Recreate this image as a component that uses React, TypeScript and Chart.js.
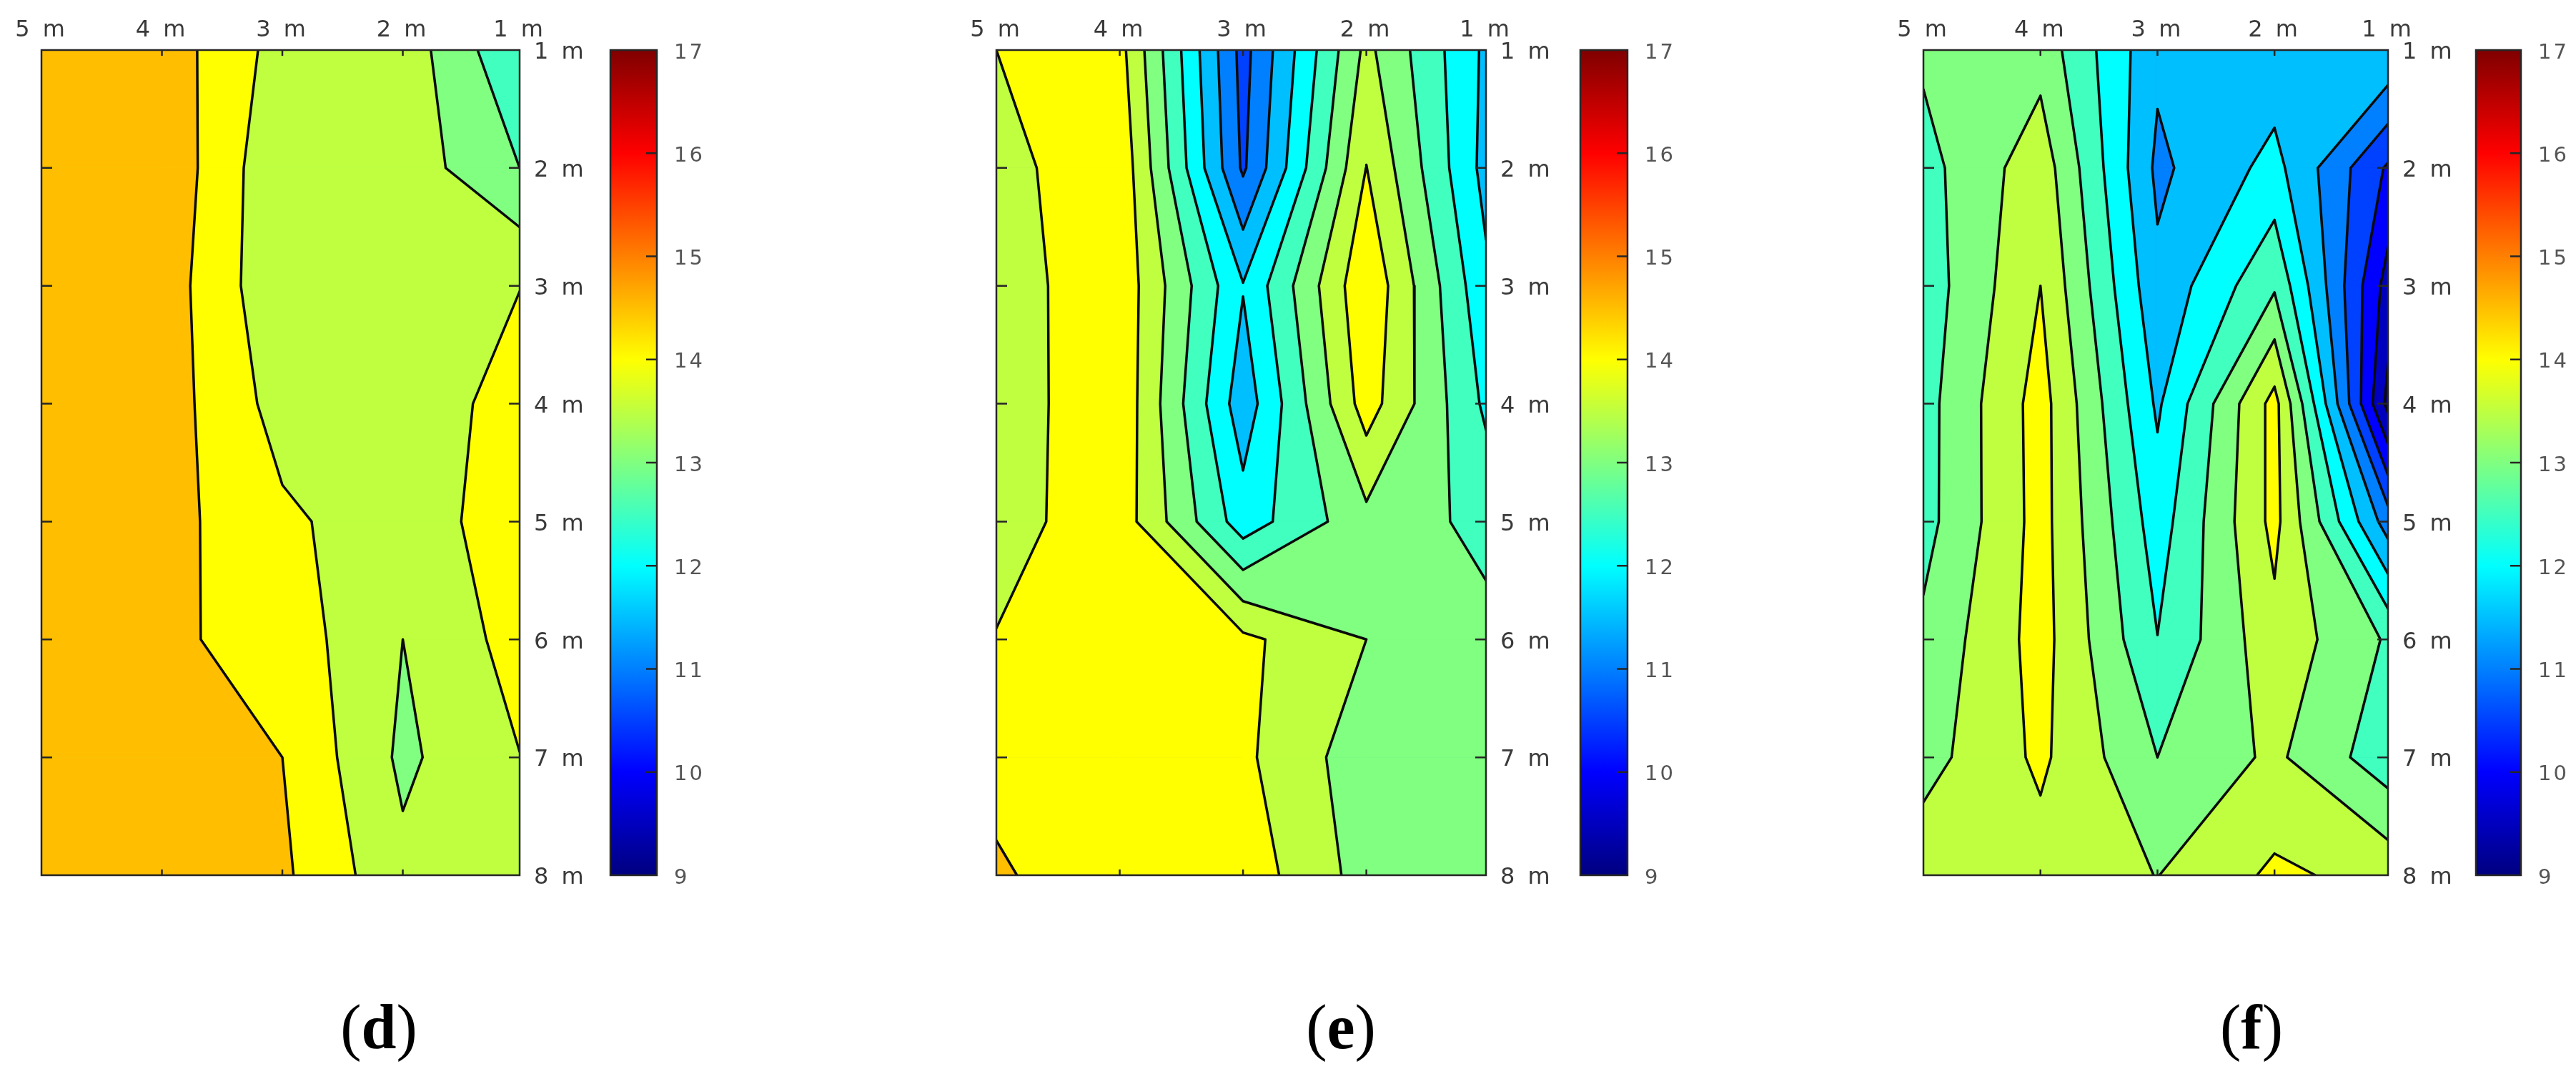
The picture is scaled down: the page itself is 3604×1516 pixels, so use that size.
import React, { useEffect, useRef } from "react";
import { Chart, registerables } from "chart.js";

Chart.register(...registerables);

const xColumns = [5, 4, 3, 2, 1.03];
const yRows = [1, 2, 3, 4, 5, 6, 7, 8];
const xTickLabels = ["5 m", "4 m", "3 m", "2 m", "1 m"];
const yTickLabels = ["1 m", "2 m", "3 m", "4 m", "5 m", "6 m", "7 m", "8 m"];
const colorbarTicks = [9, 10, 11, 12, 13, 14, 15, 16, 17];
const contourLevels = [9.5, 10, 10.5, 11, 11.5, 12, 12.5, 13, 13.5, 14, 14.5, 15, 15.5, 16, 16.5];

const panelD = [
  [14.85, 14.79, 13.8, 13.8, 12.55],
  [14.85, 14.89, 13.58, 13.79, 13.0],
  [14.85, 14.78, 13.59, 13.85, 13.995],
  [14.85, 14.76, 13.8, 13.85, 14.1],
  [14.85, 14.69, 14.09, 13.72, 14.28],
  [14.85, 14.6, 14.29, 13.5, 14.2],
  [14.85, 14.75, 14.5, 13.4, 13.99],
  [14.85, 14.85, 14.59, 13.62, 13.7],
];
const panelE = [
  [14.0, 14.17, 10.82, 13.63, 11.9],
  [13.82, 14.37, 10.92, 14.01, 11.83],
  [13.74, 14.36, 12.03, 14.42, 12.11],
  [13.72, 14.38, 11.7, 14.24, 12.4],
  [13.81, 14.28, 12.23, 13.35, 12.85],
  [14.02, 14.3, 14.11, 13.5, 13.15],
  [14.38, 14.3, 14.1, 13.21, 13.15],
  [14.55, 14.25, 14.29, 13.3, 13.2],
];
const panelF = [
  [13.09, 13.31, 11.61, 11.69, 11.95],
  [12.82, 13.8, 11.39, 12.16, 10.43],
  [12.72, 14.0, 11.62, 12.93, 9.79],
  [12.81, 14.21, 11.92, 14.18, 9.35],
  [12.82, 14.19, 12.25, 14.15, 11.25],
  [13.11, 14.2, 12.51, 13.84, 12.94],
  [13.31, 14.1, 13.0, 13.6, 12.7],
  [13.81, 13.79, 13.49, 14.09, 13.84],
];

const panels = [
  { grid: panelD, letter: "d", left: 58, right: 727, barLeft: 854, barRight: 919, captionX: 530 },
  { grid: panelE, letter: "e", left: 1394, right: 2079, barLeft: 2211, barRight: 2277, captionX: 1876 },
  { grid: panelF, letter: "f", left: 2691, right: 3341, barLeft: 3464, barRight: 3527, captionX: 3150 },
];
const TOP = 70;
const BOTTOM = 1224;
const PAD = 50;
const AXIS_W = 110;
const CANVAS_H = 1270;
const FONT = "'DejaVu Sans', sans-serif";

const clamp = (v: number) => Math.max(0, Math.min(1, v));
function jet(value: number) {
  const t = (value - 9) / 8;
  const r = clamp(Math.min(4 * t - 1.5, -4 * t + 4.5));
  const g = clamp(Math.min(4 * t - 0.5, -4 * t + 3.5));
  const b = clamp(Math.min(4 * t + 0.5, -4 * t + 2.5));
  return `rgb(${Math.round(r * 255)},${Math.round(g * 255)},${Math.round(b * 255)})`;
}

type P = { x: number; y: number } | { x: null; y: null };

function cellPolygon(grid: number[][], i: number, j: number, level: number) {
  const corners = [
    { x: xColumns[j], y: yRows[i], v: grid[i][j] },
    { x: xColumns[j + 1], y: yRows[i], v: grid[i][j + 1] },
    { x: xColumns[j + 1], y: yRows[i + 1], v: grid[i + 1][j + 1] },
    { x: xColumns[j], y: yRows[i + 1], v: grid[i + 1][j] },
  ];
  const poly: { x: number; y: number }[] = [];
  const crossings: { p: { x: number; y: number }; exit: boolean }[] = [];
  for (let k = 0; k < 4; k++) {
    const a = corners[k];
    const b = corners[(k + 1) % 4];
    const aIn = a.v >= level;
    const bIn = b.v >= level;
    if (aIn) poly.push({ x: a.x, y: a.y });
    if (aIn !== bIn) {
      const t = (level - a.v) / (b.v - a.v);
      const p = { x: a.x + (b.x - a.x) * t, y: a.y + (b.y - a.y) * t };
      poly.push(p);
      crossings.push({ p, exit: aIn });
    }
  }
  const segments: [{ x: number; y: number }, { x: number; y: number }][] = [];
  crossings.forEach((c, n) => {
    if (c.exit) segments.push([c.p, crossings[(n + 1) % crossings.length].p]);
  });
  return { poly, segments };
}

function contourDatasets(grid: number[][]) {
  const fills: any[] = [];
  const lines: any[] = [];
  const all = grid.flat();
  const low = Math.min(...all);
  let base = 9;
  contourLevels.forEach((l) => {
    if (l <= low) base = l;
  });
  const rect = [
    { x: xColumns[0], y: yRows[0] },
    { x: xColumns[4], y: yRows[0] },
    { x: xColumns[4], y: yRows[7] },
    { x: xColumns[0], y: yRows[7] },
    { x: xColumns[0], y: yRows[0] },
  ];
  fills.push({
    type: "scatter",
    showLine: true,
    data: rect,
    fill: "shape",
    backgroundColor: jet(base),
    borderColor: jet(base),
    borderWidth: 1,
    pointRadius: 0,
  });
  contourLevels.forEach((level, idx) => {
    const next = contourLevels[idx + 1];
    const color = jet(level);
    const path: P[] = [];
    for (let i = 0; i < yRows.length - 1; i++) {
      for (let j = 0; j < xColumns.length - 1; j++) {
        const vals = [grid[i][j], grid[i][j + 1], grid[i + 1][j], grid[i + 1][j + 1]];
        if (vals.every((v) => v < level)) continue;
        const { poly, segments } = cellPolygon(grid, i, j, level);
        segments.forEach(([a, b]) => path.push(a, b, { x: null, y: null }));
        if (next !== undefined && vals.every((v) => v >= next)) continue;
        if (poly.length < 3 || level <= base) continue;
        fills.push({
          type: "scatter",
          showLine: true,
          data: [...poly, poly[0]],
          fill: "shape",
          backgroundColor: color,
          borderColor: color,
          borderWidth: 1,
          pointRadius: 0,
        });
      }
    }
    if (path.length) {
      lines.push({
        type: "scatter",
        showLine: true,
        data: path,
        fill: false,
        borderColor: "#0a0a0a",
        borderWidth: 3.5,
        borderCapStyle: "round",
        borderJoinStyle: "round",
        pointRadius: 0,
        spanGaps: false,
      });
    }
  });
  // index 0 is painted last: contour lines on top, high levels above low ones
  return [...lines, ...fills.reverse()];
}

// moves the single-line tick labels of a vertical axis down by a few pixels
const lowerLabels = (dy: number) => (s: any) => {
  if (s.__lowered) return;
  s.__lowered = true;
  const orig = s.getLabelItems.bind(s);
  s.getLabelItems = (ca: any) => orig(ca).map((it: any) => ({ ...it, textOffset: it.textOffset + dy }));
};

const framePlugin = {
  id: "frame",
  beforeDraw(chart: any, _a: any, opts: any) {
    chart.ctx.letterSpacing = opts.letterSpacing || "0px";
  },
  afterDraw(chart: any, _a: any, opts: any) {
    const { ctx, chartArea: ca } = chart;
    ctx.save();
    ctx.strokeStyle = "#262626";
    ctx.lineWidth = 2.5;
    ctx.strokeRect(ca.left, ca.top, ca.right - ca.left, ca.bottom - ca.top);
    ctx.beginPath();
    const y = chart.scales.y;
    y.ticks.forEach((t: any) => {
      const py = y.getPixelForValue(t.value);
      if (Math.abs(py - ca.top) < 2 || Math.abs(py - ca.bottom) < 2) return;
      ctx.moveTo(ca.right, py);
      ctx.lineTo(ca.right - 15, py);
      if (opts.both) {
        ctx.moveTo(ca.left, py);
        ctx.lineTo(ca.left + 15, py);
      }
    });
    if (opts.both) {
      const x = chart.scales.x;
      x.ticks.forEach((t: any) => {
        const px = x.getPixelForValue(t.value);
        if (Math.abs(px - ca.left) < 2 || Math.abs(px - ca.right) < 2) return;
        ctx.moveTo(px, ca.top);
        ctx.lineTo(px, ca.top + 8);
        ctx.moveTo(px, ca.bottom);
        ctx.lineTo(px, ca.bottom - 8);
      });
    }
    ctx.stroke();
    ctx.restore();
  },
};

function makePlot(canvas: HTMLCanvasElement, panel: (typeof panels)[number]) {
  return new Chart(canvas, {
    type: "scatter",
    data: { datasets: contourDatasets(panel.grid) as any },
    plugins: [framePlugin],
    options: {
      animation: false,
      responsive: false,
      devicePixelRatio: 1,
      events: [],
      layout: { padding: { left: PAD, bottom: CANVAS_H - BOTTOM, top: 0, right: 0 } },
      plugins: {
        legend: { display: false },
        tooltip: { enabled: false },
        frame: { both: true, letterSpacing: "4px" },
      } as any,
      scales: {
        x: {
          type: "linear",
          position: "top",
          reverse: true,
          min: xColumns[4],
          max: xColumns[0],
          grid: { display: false, drawTicks: false },
          border: { display: false },
          afterBuildTicks: (s: any) => {
            s.ticks = xColumns.map((value) => ({ value }));
          },
          afterFit: (s: any) => {
            s.height = TOP;
          },
          ticks: {
            autoSkip: false,
            maxRotation: 0,
            padding: 8,
            color: "#3a3a3a",
            font: { family: FONT, size: 32 },
            callback: (_v: any, i: number) => xTickLabels[i],
          },
        },
        y: {
          type: "linear",
          position: "right",
          reverse: true,
          min: yRows[0],
          max: yRows[7],
          grid: { display: false, drawTicks: false },
          border: { display: false },
          afterBuildTicks: (s: any) => {
            s.ticks = yRows.map((value) => ({ value }));
          },
          afterFit: (s: any) => {
            s.width = AXIS_W;
          },
          afterUpdate: lowerLabels(4),
          ticks: {
            autoSkip: false,
            padding: 20,
            color: "#3a3a3a",
            font: { family: FONT, size: 32 },
            callback: (_v: any, i: number) => yTickLabels[i],
          },
        },
      },
    },
  });
}

function makeColorbar(canvas: HTMLCanvasElement) {
  return new Chart(canvas, {
    type: "bar",
    data: {
      labels: [""],
      datasets: [
        {
          data: [[colorbarTicks[0], colorbarTicks[8]]] as any,
          barPercentage: 1,
          categoryPercentage: 1,
          backgroundColor: (c: any) => {
            const { chart } = c;
            if (!chart.chartArea) return "#000";
            const y = chart.scales.y;
            const g = chart.ctx.createLinearGradient(0, y.getPixelForValue(9), 0, y.getPixelForValue(17));
            for (let k = 0; k <= 64; k++) g.addColorStop(k / 64, jet(9 + (8 * k) / 64));
            return g;
          },
        },
      ],
    },
    plugins: [framePlugin],
    options: {
      animation: false,
      responsive: false,
      devicePixelRatio: 1,
      events: [],
      layout: { padding: { left: 10, top: TOP, bottom: CANVAS_H - BOTTOM, right: 0 } },
      plugins: {
        legend: { display: false },
        tooltip: { enabled: false },
        frame: { both: false, letterSpacing: "3px" },
      } as any,
      scales: {
        x: { display: false },
        y: {
          type: "linear",
          position: "right",
          min: 9,
          max: 17,
          grid: { display: false, drawTicks: false },
          border: { display: false },
          afterBuildTicks: (s: any) => {
            s.ticks = colorbarTicks.map((value) => ({ value }));
          },
          afterFit: (s: any) => {
            s.width = 70;
          },
          afterUpdate: lowerLabels(4),
          ticks: {
            autoSkip: false,
            padding: 24,
            color: "#555555",
            font: { family: FONT, size: 29 },
            callback: (v: any) => String(v),
          },
        },
      },
    },
  });
}

function Panel({ panel }: { panel: (typeof panels)[number] }) {
  const plotRef = useRef<HTMLCanvasElement>(null);
  const barRef = useRef<HTMLCanvasElement>(null);
  useEffect(() => {
    const a = makePlot(plotRef.current!, panel);
    const b = makeColorbar(barRef.current!);
    return () => {
      a.destroy();
      b.destroy();
    };
  }, [panel]);
  const plotW = PAD + (panel.right - panel.left) + AXIS_W;
  const barW = 10 + (panel.barRight - panel.barLeft) + 70;
  return (
    <>
      <canvas
        ref={plotRef}
        width={plotW}
        height={CANVAS_H}
        style={{ position: "absolute", left: panel.left - PAD, top: 0 }}
      />
      <canvas
        ref={barRef}
        width={barW}
        height={CANVAS_H}
        style={{ position: "absolute", left: panel.barLeft - 10, top: 0 }}
      />
      <div
        style={{
          position: "absolute",
          left: panel.captionX - 100,
          width: 200,
          top: 1387,
          textAlign: "center",
          fontFamily: "'Liberation Serif', serif",
          fontSize: 88,
          lineHeight: "100px",
          color: "#000",
        }}
      >
        (<b>{panel.letter}</b>)
      </div>
    </>
  );
}

export default function App() {
  return (
    <div style={{ position: "absolute", left: 0, top: 0, width: 3604, height: 1516, background: "#fff", overflow: "hidden" }}>
      {panels.map((p) => (
        <Panel key={p.letter} panel={p} />
      ))}
    </div>
  );
}
